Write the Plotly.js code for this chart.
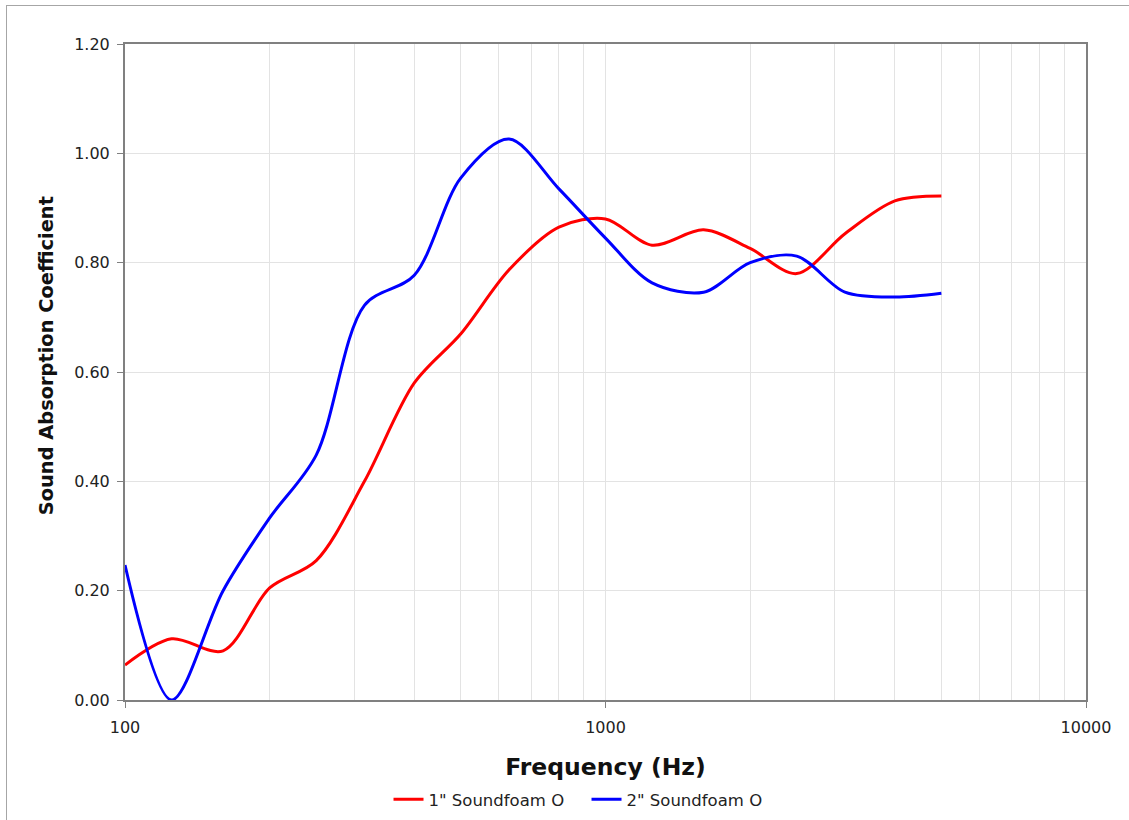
<!DOCTYPE html>
<html>
<head>
<meta charset="utf-8">
<script src="https://cdn.plot.ly/plotly-3.0.1.min.js"></script>
<style>
  html, body { margin: 0; padding: 0; background: #ffffff; }
  #wrap { position: relative; width: 1129px; height: 820px; overflow: hidden; }
  #frame { position: absolute; left: 6px; top: 5px; width: 1140px; height: 830px; border-top: 1px solid #a6a6a6; border-left: 1px solid #a6a6a6; box-sizing: border-box; pointer-events: none; z-index: 5; }
  #chart { position: absolute; left: 0; top: 0; width: 1129px; height: 820px; }
</style>
</head>
<body>
<div id="wrap">
  <div id="chart"></div>
  <div id="frame"></div>
</div>
<script>
// Frequencies (Hz), 1/3-octave bands
const freqs = [100, 125, 160, 200, 250, 315, 400, 500, 630, 800, 1000, 1250, 1600, 2000, 2500, 3150, 4000, 5000];
// Sound absorption coefficients
const foam1 = [0.064, 0.112, 0.090, 0.205, 0.255, 0.400, 0.580, 0.670, 0.787, 0.865, 0.880, 0.832, 0.860, 0.826, 0.780, 0.853, 0.913, 0.922];
const foam2 = [0.247, 0.000, 0.200, 0.333, 0.448, 0.722, 0.777, 0.955, 1.026, 0.935, 0.845, 0.763, 0.746, 0.800, 0.812, 0.746, 0.737, 0.744];
const seriesNames = ['1" Soundfoam O', '2" Soundfoam O'];
const xMajorTicks = [100, 1000, 10000];
const xMajorLabels = ['100', '1000', '10000'];
const xMinorTicks = [200, 300, 400, 500, 600, 700, 800, 900, 2000, 3000, 4000, 5000, 6000, 7000, 8000, 9000];
const yTitle = 'Sound Absorption Coefficient';
const xTitle = 'Frequency (Hz)';

const font = 'DejaVu Sans, Verdana, sans-serif';

const traces = [
  { x: freqs, y: foam1, name: seriesNames[0], mode: 'lines',
    line: { color: '#ff0000', width: 3, shape: 'spline', smoothing: 0.9 } },
  { x: freqs, y: foam2, name: seriesNames[1], mode: 'lines',
    line: { color: '#0000ff', width: 3, shape: 'spline', smoothing: 0.9 } }
];

const layout = {
  width: 1129, height: 820,
  margin: { l: 125, r: 43, t: 44, b: 120 },
  paper_bgcolor: '#ffffff', plot_bgcolor: '#ffffff',
  font: { family: font, size: 16, color: '#222222' },
  showlegend: true,
  legend: { orientation: 'h', x: 0.5195, xanchor: 'center', xref: 'container',
            y: 0.025, yanchor: 'middle', yref: 'container',
            entrywidth: 153, entrywidthmode: 'pixels',
            font: { family: font, size: 16.5, color: '#222222' }, itemwidth: 30, traceorder: 'normal' },
  xaxis: {
    type: 'log', range: [2, 4],
    tickmode: 'array', tickvals: xMajorTicks, ticktext: xMajorLabels,
    ticks: 'outside', ticklen: 6, tickcolor: '#808080', ticklabelstandoff: 6,
    showgrid: true, gridcolor: '#e3e3e3', gridwidth: 1,
    minor: { tickmode: 'array', tickvals: xMinorTicks, showgrid: true, gridcolor: '#e3e3e3', gridwidth: 1, ticks: '' },
    showline: true, linecolor: '#808080', linewidth: 2, mirror: true,
    zeroline: false,
    tickfont: { family: font, size: 16, color: '#222222' },
    title: { text: xTitle, font: { family: font, size: 23.5, color: '#111111', weight: 'bold' }, standoff: 22 }
  },
  yaxis: {
    range: [0, 1.2], dtick: 0.2, tick0: 0, tickformat: '.2f',
    ticks: 'outside', ticklen: 6, tickcolor: '#808080', ticklabelstandoff: 4,
    showgrid: true, gridcolor: '#e3e3e3', gridwidth: 1,
    showline: true, linecolor: '#808080', linewidth: 2, mirror: true,
    zeroline: false,
    tickfont: { family: font, size: 16, color: '#222222' }
  },
  annotations: [{
    text: yTitle, textangle: -90, showarrow: false,
    xref: 'paper', yref: 'paper', x: -0.0822, y: 0.524, xanchor: 'center', yanchor: 'middle',
    font: { family: font, size: 19.4, color: '#111111', weight: 'bold' }
  }]
};

Plotly.newPlot('chart', traces, layout, { displayModeBar: false, staticPlot: true });
</script>
</body>
</html>
